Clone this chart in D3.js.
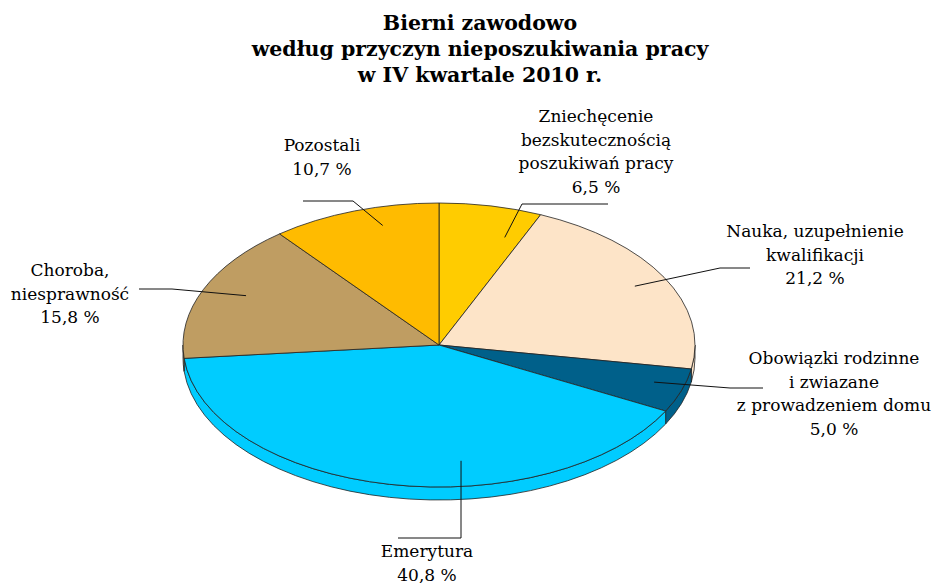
<!DOCTYPE html>
<html>
<head>
<meta charset="utf-8">
<script src="https://cdn.jsdelivr.net/npm/d3@7"></script>
<style>
  body { margin: 0; background: #fff; }
  svg { display: block; }
  .title { font-family: 'DejaVu Serif', serif; font-weight: bold; font-size: 20.5px; }
  .lbl { font-family: 'DejaVu Serif', serif; font-size: 17px; }
</style>
</head>
<body>
<script>

// Chart data.
var titleLines = ['Bierni zawodowo', 'według przyczyn nieposzukiwania pracy',
  'w IV kwartale 2010 r.'];
var categories = [
  ['Zniechęcenie', 'bezskutecznością', 'poszukiwań pracy'],
  ['Nauka, uzupełnienie', 'kwalifikacji'],
  ['Obowiązki rodzinne', 'i zwiazane', 'z prowadzeniem domu'],
  ['Emerytura'],
  ['Choroba,', 'niesprawność'],
  ['Pozostali']
];
var values = [6.5, 21.2, 5.0, 40.8, 15.8, 10.7];
var colors = ['#ffcc00', '#fde4c8', '#00608a', '#00ccff', '#bf9d62', '#ffbb00'];

// Label placement: centre x, first baseline, leader anchor (share of the
// slice angle, share of the radius), then the elbow and the loose end.
var labelX = [596, 815, 834, 427, 70, 322];
var labelY = [122, 237, 364, 557, 276, 151];
var leaders = [
  [0.80, 0.80, 522, 204, 608, 204],
  [0.50, 0.87, 720, 268, 750, 268],
  [0.42, 0.88, 730, 388, 763, 388],
  [0.383, 0.82, 461, 538, 398, 538],
  [0.53, 0.83, 172, 289, 139, 289],
  [0.62, 0.87, 353, 201, 303, 201]
];

var W = 933, H = 583;
var cx = 439, cy = 345, rx = 256, ry = 142, depth = 13;
var lineH = 23.5;

var fmt = d3.formatLocale({ decimal: ',', thousands: ' ', grouping: [3],
  currency: ['', ''] }).format('.1f');

var svg = d3.select('body').append('svg')
  .attr('width', W).attr('height', H);

// Title.
svg.append('text').attr('class', 'title')
  .attr('text-anchor', 'middle')
  .selectAll('tspan').data(titleLines).join('tspan')
  .attr('x', 480).attr('y', function(d, i) { return 29.5 + i * 26; })
  .text(function(d) { return d; });

var arcs = d3.pie().sort(null).value(function(d) { return d; })(values);

// Point on the ellipse for a d3 angle (0 = up, clockwise).
function pt(a, f, dy) {
  return [cx + rx * f * Math.sin(a), cy - ry * f * Math.cos(a) + (dy || 0)];
}

// Side wall, only where it faces the viewer.
var sides = arcs.map(function(a, i) {
  var a0 = Math.max(a.startAngle, Math.PI / 2);
  var a1 = Math.min(a.endAngle, 3 * Math.PI / 2);
  return { a0: a0, a1: a1, i: i };
}).filter(function(s) { return s.a1 > s.a0; });

svg.append('g').selectAll('path').data(sides).join('path')
  .attr('d', function(s) {
    var p0 = pt(s.a0, 1), p1 = pt(s.a1, 1);
    var q0 = pt(s.a0, 1, depth), q1 = pt(s.a1, 1, depth);
    return 'M' + p0 + 'A' + rx + ',' + ry + ' 0 0 1 ' + p1 +
      'L' + q1 + 'A' + rx + ',' + ry + ' 0 0 0 ' + q0 + 'Z';
  })
  .attr('fill', function(s) { return colors[s.i]; })
  .attr('stroke', '#222').attr('stroke-width', 0.8);

// Top face: a circular pie squashed into an ellipse.
var arc = d3.arc().innerRadius(0).outerRadius(rx);
svg.append('g')
  .attr('transform', 'translate(' + cx + ',' + cy + ') scale(1,' + (ry / rx) + ')')
  .selectAll('path').data(arcs).join('path')
  .attr('d', arc)
  .attr('fill', function(d, i) { return colors[i]; })
  .attr('stroke', '#222').attr('stroke-width', 0.8)
  .attr('vector-effect', 'non-scaling-stroke');

// Leader lines.
var line = d3.line();
svg.append('g').selectAll('path').data(arcs).join('path')
  .attr('d', function(d, i) {
    var l = leaders[i];
    var a = d.startAngle + l[0] * (d.endAngle - d.startAngle);
    return line([pt(a, l[1]), [l[2], l[3]], [l[4], l[5]]]);
  })
  .attr('fill', 'none').attr('stroke', '#111').attr('stroke-width', 1);

// Labels.
svg.append('g').selectAll('text').data(arcs).join('text')
  .attr('class', 'lbl').attr('text-anchor', 'middle')
  .each(function(d, i) {
    var lines = categories[i].concat([fmt(values[i]) + ' %']);
    d3.select(this).selectAll('tspan').data(lines).join('tspan')
      .attr('x', labelX[i])
      .attr('y', function(t, k) { return labelY[i] + k * lineH; })
      .text(function(t) { return t; });
  });

</script>
</body>
</html>
